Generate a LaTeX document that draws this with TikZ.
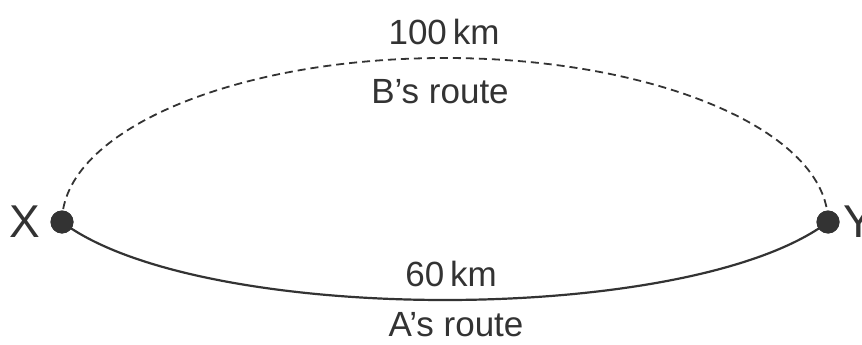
\documentclass[tikz,border=0pt]{standalone}
\usepackage{fontspec}
\setmainfont{Liberation Sans}
\begin{document}
\begin{tikzpicture}[x=1pt,y=-1pt,
  ink/.style={draw=black!80, line width=2.2pt},
  dot/.style={circle, fill=black!80, inner sep=0pt, minimum size=23pt},
  lbl/.style={text=black!80, font=\fontsize{35}{35}\selectfont, inner sep=0pt},
  ptlbl/.style={text=black!80, font=\fontsize{46}{46}\selectfont, inner sep=0pt}]
\useasboundingbox (0,0) rectangle (862,345);
\node[dot] (X) at (62,222) {};
\node[dot] (Y) at (828,222) {};
\node[ptlbl] (xl) at (25,222) {X};
\node[ptlbl, anchor=west] (yl) at (843,222) {Y};
\draw[ink, line width=1.8pt, dash pattern=on 8pt off 5pt] (X.center) arc[start angle=180, end angle=0, x radius=383, y radius=-164];
\draw[ink] (X.center) .. controls (200,326) and (690,326) .. (Y.center);
\node[dot] at (62,222) {};
\node[dot] at (828,222) {};
\node[lbl] (t100) at (444,32) {100\,km};
\node[lbl] (tB) at (440,92) {B’s route};
\node[lbl] (t60) at (451,274) {60\,km};
\node[lbl] (tA) at (456,325) {A’s route};
\end{tikzpicture}
\end{document}
